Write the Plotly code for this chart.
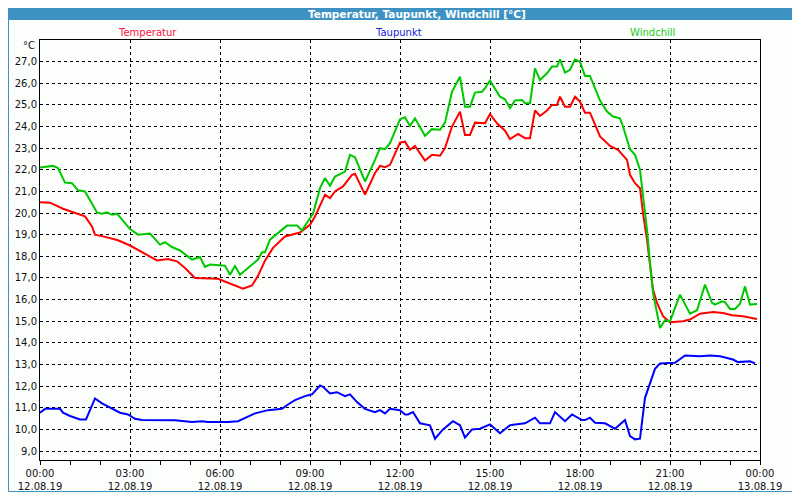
import pandas as pd
import plotly.graph_objects as go

# minutes since 12.08.19 00:00 and values in °C
temp_min = [0, 20, 46, 66, 90, 104, 110, 130, 156, 180, 204, 224, 234, 256, 274, 290, 310, 356, 376, 390,
            406, 424, 436, 450, 466, 490, 520, 540, 550, 570, 580, 590, 606, 624, 630, 650, 670, 680, 690, 700,
            720, 730, 740, 750, 770, 784, 800, 810, 824, 840, 850, 860, 870, 890, 900, 914, 930, 940, 956, 970,
            980, 990, 1000, 1014, 1024, 1034, 1040, 1050, 1060, 1070, 1080, 1090, 1100, 1120, 1140, 1156, 1174,
            1180, 1190, 1200, 1206, 1214, 1220, 1226, 1234, 1246, 1260, 1286, 1300, 1320, 1346, 1366, 1384,
            1406, 1434]
temp_val = [20.5, 20.48, 20.2, 20.03, 19.85, 19.38, 19.0, 18.9, 18.74, 18.5, 18.18, 17.92, 17.81, 17.88, 17.77,
            17.46, 17.0, 16.96, 16.77, 16.62, 16.5, 16.65, 17.1, 17.8, 18.39, 18.92, 19.1, 19.46, 19.84, 20.85,
            20.69, 21.0, 21.23, 21.77, 21.82, 20.85, 21.85, 22.18, 22.12, 22.23, 23.26, 23.3, 22.92, 23.1, 22.43,
            22.69, 22.65, 23.0, 24.0, 24.69, 23.61, 23.61, 24.18, 24.15, 24.58, 24.15, 23.81, 23.42, 23.66, 23.46,
            23.46, 24.74, 24.49, 24.74, 25.0, 25.0, 25.38, 24.92, 24.92, 25.38, 25.15, 24.64, 24.64, 23.54, 23.1,
            22.92, 22.46, 21.77, 21.38, 21.15, 20.0, 18.77, 17.54, 16.46, 15.85, 15.23, 14.95, 15.0, 15.08, 15.35,
            15.43, 15.38, 15.28, 15.23, 15.1]

dew_min = [0, 10, 40, 46, 60, 80, 92, 110, 124, 146, 160, 176, 190, 204, 270, 304, 324, 336, 376, 396, 410, 430,
           456, 484, 496, 510, 530, 544, 560, 566, 580, 594, 610, 620, 634, 650, 670, 680, 690, 700, 720, 730, 736,
           746, 760, 780, 790, 806, 826, 840, 850, 864, 880, 900, 920, 940, 950, 970, 990, 1000, 1020, 1030, 1050,
           1064, 1084, 1090, 1100, 1110, 1130, 1150, 1170, 1180, 1190, 1200, 1210, 1220, 1230, 1240, 1270, 1290,
           1320, 1340, 1360, 1386, 1396, 1420, 1430]
dew_val = [10.77, 10.95, 10.95, 10.77, 10.62, 10.46, 10.46, 11.43, 11.2, 10.95, 10.77, 10.69, 10.49, 10.43, 10.42,
           10.34, 10.38, 10.34, 10.34, 10.38, 10.54, 10.74, 10.89, 10.95, 11.15, 11.35, 11.54, 11.62, 12.03, 11.97,
           11.66, 11.72, 11.54, 11.62, 11.26, 10.95, 10.8, 10.89, 10.74, 10.95, 10.89, 10.69, 10.69, 10.8, 10.28,
           10.19, 9.57, 10.0, 10.38, 10.19, 9.62, 10.0, 10.03, 10.23, 9.82, 10.19, 10.23, 10.28, 10.54, 10.28,
           10.28, 10.8, 10.38, 10.69, 10.43, 10.43, 10.54, 10.31, 10.28, 10.03, 10.43, 9.69, 9.54, 9.57, 11.46,
           12.16, 12.8, 13.05, 13.08, 13.42, 13.38, 13.42, 13.38, 13.23, 13.11, 13.15, 13.05]

chill_min = [0, 26, 36, 50, 64, 76, 90, 114, 124, 134, 144, 154, 180, 196, 220, 240, 250, 264, 280, 304, 320,
             330, 340, 370, 380, 390, 400, 416, 436, 444, 450, 460, 474, 494, 514, 524, 536, 546, 560, 570, 580,
             590, 610, 620, 630, 650, 670, 680, 690, 700, 720, 730, 740, 750, 770, 784, 800, 810, 824, 840, 850,
             860, 870, 884, 890, 900, 920, 930, 940, 950, 964, 970, 980, 990, 1000, 1014, 1024, 1034, 1040, 1050,
             1060, 1070, 1080, 1090, 1100, 1120, 1134, 1146, 1160, 1166, 1180, 1190, 1200, 1206, 1214, 1220, 1226,
             1234, 1240, 1250, 1260, 1280, 1300, 1314, 1330, 1344, 1350, 1364, 1370, 1380, 1390, 1400, 1410, 1420,
             1434]
chill_val = [22.1, 22.18, 22.08, 21.41, 21.38, 21.05, 21.0, 20.03, 19.97, 20.03, 19.92, 19.97, 19.26, 19.0, 19.05,
             18.54, 18.65, 18.43, 18.27, 17.85, 17.97, 17.51, 17.62, 17.57, 17.15, 17.55, 17.15, 17.45, 17.85,
             18.19, 18.19, 18.77, 19.05, 19.42, 19.42, 19.2, 19.62, 19.97, 21.15, 21.62, 21.26, 21.69, 21.92, 22.69,
             22.58, 21.46, 22.46, 23.0, 22.95, 23.23, 24.34, 24.43, 24.03, 24.38, 23.57, 23.88, 23.85, 24.18, 25.61,
             26.3, 24.92, 24.92, 25.57, 25.61, 25.77, 26.12, 25.38, 25.26, 24.85, 25.2, 25.23, 25.08, 25.08, 26.69,
             26.15, 26.46, 26.77, 26.77, 27.1, 26.49, 26.62, 27.1, 27.0, 26.34, 26.34, 25.2, 24.69, 24.46, 24.38,
             24.0, 22.95, 22.69, 22.0, 20.77, 19.23, 17.69, 16.31, 15.38, 14.69, 15.05, 15.0, 16.23, 15.35, 15.51,
             16.69, 15.85, 15.77, 15.92, 15.88, 15.57, 15.57, 15.81, 16.61, 15.77, 15.8]

tick_hours = [0, 3, 6, 9, 12, 15, 18, 21, 24]
tick_labels = ["00:00<br>12.08.19", "03:00<br>12.08.19", "06:00<br>12.08.19", "09:00<br>12.08.19",
               "12:00<br>12.08.19", "15:00<br>12.08.19", "18:00<br>12.08.19", "21:00<br>12.08.19",
               "00:00<br>13.08.19"]

start = pd.Timestamp("2019-08-12 00:00")
def to_time(mins):
    return start + pd.to_timedelta(mins, unit="min")

FONT = "DejaVu Sans"
HEADER = "#3e92c3"
BG = "#fcfefc"

# page body has an 8px margin -> figure sits at (8, 8); plot area ends up at 40..760 x 40..460
fig = go.Figure()
fig.add_trace(go.Scatter(x=to_time(dew_min), y=dew_val, mode="lines", name="Taupunkt",
                         line=dict(color="#0000ff", width=2)))
fig.add_trace(go.Scatter(x=to_time(temp_min), y=temp_val, mode="lines", name="Temperatur",
                         line=dict(color="#ff0000", width=2)))
fig.add_trace(go.Scatter(x=to_time(chill_min), y=chill_val, mode="lines", name="Windchill",
                         line=dict(color="#00c800", width=2)))

fig.update_layout(
    width=792, height=484,
    margin=dict(l=32, r=40, t=32, b=32),
    paper_bgcolor=BG, plot_bgcolor=BG,
    showlegend=False,
    separators=",.",
    font=dict(family=FONT, size=10, color="#111111"),
)

fig.update_xaxes(
    automargin=False,
    range=[start, start + pd.Timedelta(hours=24)],
    tickvals=[start + pd.Timedelta(hours=h) for h in tick_hours],
    ticktext=tick_labels,
    ticks="outside", ticklen=4, tickcolor="black",
    minor=dict(dtick=3600000, ticks="outside", ticklen=4, tickcolor="black", showgrid=False),
    showgrid=True, gridcolor="black", gridwidth=1, griddash="3px,3px",
    showline=True, linecolor="black", linewidth=1, mirror=True,
    zeroline=False,
)
fig.update_yaxes(
    automargin=False,
    range=[8.585, 28.0],
    tickvals=list(range(9, 28)),
    tickformat=".1f",
    ticks="",
    showgrid=True, gridcolor="black", gridwidth=1, griddash="3px,3px",
    showline=True, linecolor="black", linewidth=1, mirror=True,
    zeroline=False,
)

# window pixel -> paper coords
def px(x):
    return (x - 40) / 720.0
def py(y):
    return (460 - y) / 420.0

fig.add_shape(type="rect", xref="paper", yref="paper", x0=px(0), x1=px(800), y0=py(20), y1=py(0),
              fillcolor=HEADER, line=dict(width=0), layer="below")
fig.add_shape(type="rect", xref="paper", yref="paper", x0=px(8.5), x1=px(799.5), y0=py(491.5), y1=py(8),
              fillcolor="rgba(0,0,0,0)", line=dict(color=HEADER, width=1))

def label(text, x, y, color, size=10, xanchor="center"):
    fig.add_annotation(text=text, xref="paper", yref="paper", x=px(x), y=py(y),
                       xanchor=xanchor, yanchor="middle", showarrow=False,
                       font=dict(family=FONT, size=size, color=color))

label("<b>Temperatur, Taupunkt, Windchill [°C]</b>", 417, 14, "white", size=10.5)
label("Temperatur", 147, 32, "#ff1040")
label("Taupunkt", 398, 32, "#2020e0")
label("Windchill", 652, 32, "#20cc20")
label("°C", 37, 46, "#111111", xanchor="right")

fig.write_html("out.html")
